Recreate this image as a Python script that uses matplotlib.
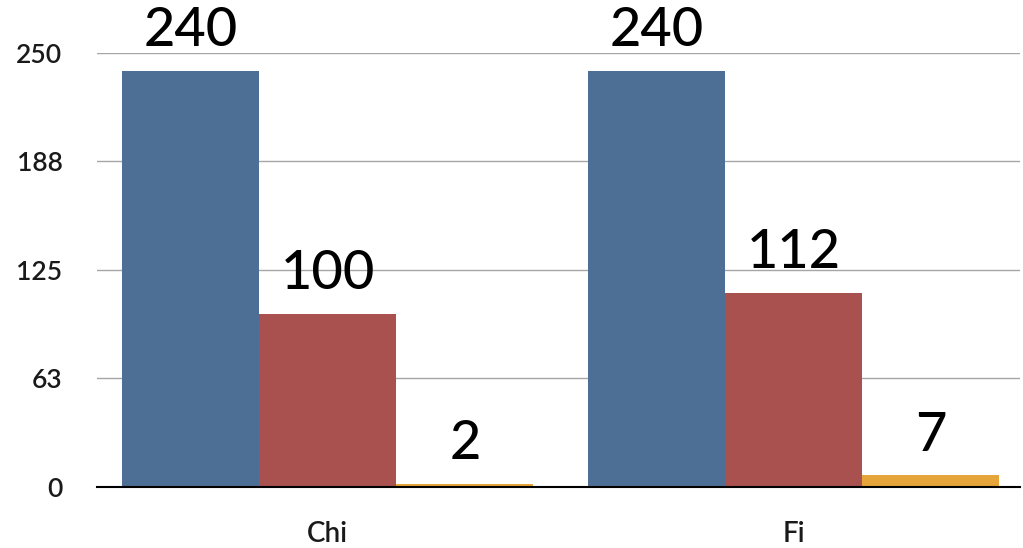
import matplotlib
matplotlib.use("Agg")
import matplotlib.pyplot as plt
import numpy as np

categories = ["Chi", "Fi"]
series_a = [240, 240]
series_b = [100, 112]
series_c = [2, 7]
y_ticks = [0, 63, 125, 188, 250]

colors = ["#4d6f96", "#a8514f", "#e6a53a"]

fig = plt.figure(figsize=(10.23, 5.48), dpi=100)
ax = fig.add_axes([0.095, 0.111, 0.902, 0.792])

x = np.arange(len(categories))
width = 0.294
offsets = [-width, 0, width]
for vals, off, col in zip([series_a, series_b, series_c], offsets, colors):
    bars = ax.bar(x + off, vals, width=width, color=col, zorder=2, linewidth=0)
    for rect, v in zip(bars, vals):
        ax.annotate(str(v), (rect.get_x() + rect.get_width() / 2, v),
                    xytext=(0, 11), textcoords="offset points",
                    ha="center", va="bottom", fontsize=39, family="Lato",
                    fontweight="medium", color="black",
                    annotation_clip=False, clip_on=False)

ax.set_xlim(-0.495, 1.485)
ax.set_ylim(0, 250)
ax.set_yticks(y_ticks)
ax.set_yticklabels([str(t) for t in y_ticks], family="Lato", fontsize=19,
                   fontweight="semibold", color="#1a1a1a")
ax.set_xticks(x)
ax.set_xticklabels(categories, family="Lato", fontsize=20,
                   fontweight="semibold", color="#1a1a1a")
ax.tick_params(axis="y", length=0, pad=25)
ax.tick_params(axis="x", length=0, pad=24)
ax.yaxis.grid(True, color="#a6a6a6", linewidth=1.0, zorder=0)
ax.set_axisbelow(True)
for s in ["top", "right", "left"]:
    ax.spines[s].set_visible(False)
ax.spines["bottom"].set_color("black")
ax.spines["bottom"].set_linewidth(1.5)
ax.spines["bottom"].set_zorder(3)

fig.savefig("out.png", dpi=100)
